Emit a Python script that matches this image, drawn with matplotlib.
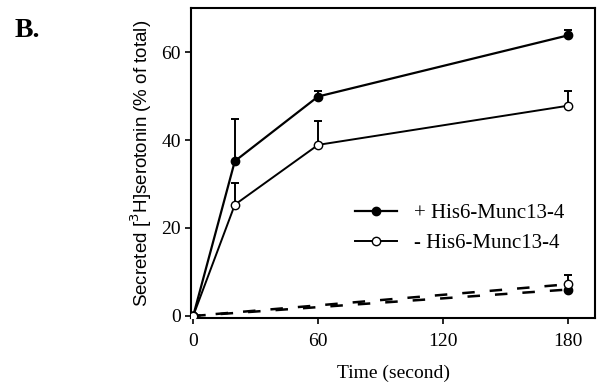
import matplotlib.pyplot as plt
from matplotlib.lines import Line2D
import numpy as np

plt.rcParams['font.family'] = ['Liberation Serif', 'DejaVu Serif']

# data
time = [0, 20, 60, 180]
plus_munc = [0, 35.2, 49.9, 63.8]
plus_err = [0, 9.6, 1.2, 1.3]
minus_munc = [0, 25.3, 38.9, 47.8]
minus_err = [0, 4.9, 5.4, 3.3]

ctrl_time = [0, 180]
ctrl_plus = [0, 6.0]
ctrl_minus = [0, 7.2]
ctrl_minus_err = [0, 2.2]

labels = ["+ His6-Munc13-4", "- His6-Munc13-4"]

fig = plt.figure(figsize=(6.01, 3.87), dpi=100)
ax = fig.add_axes([0.318, 0.178, 0.672, 0.801])

ax.errorbar(time, plus_munc, yerr=[np.zeros(4), plus_err], color="black", lw=1.6,
            marker="o", ms=6, mfc="black", mec="black", capsize=3, elinewidth=1.4,
            capthick=1.4, zorder=3)
ax.errorbar(time, minus_munc, yerr=[np.zeros(4), minus_err], color="black", lw=1.4,
            marker="o", ms=6, mfc="white", mec="black", capsize=3, elinewidth=1.4,
            capthick=1.4, zorder=3)
ax.plot(ctrl_time, ctrl_plus, color="black", lw=1.8, ls=(0, (5, 6)),
        marker="o", ms=6, mfc="black", mec="black", zorder=3)
ax.errorbar(ctrl_time, ctrl_minus, yerr=[np.zeros(2), ctrl_minus_err], color="black",
            lw=1.8, ls=(2, (5, 6)), marker="o", ms=6, mfc="white", mec="black",
            capsize=3, elinewidth=1.4, capthick=1.4, zorder=3)

ax.set_xlim(-1, 193)
ax.set_ylim(-0.5, 70)
ax.set_xticks([0, 60, 120, 180])
ax.set_yticks([0, 20, 40, 60])
ax.tick_params(labelsize=14, width=1.2, length=4)
ax.tick_params(axis="x", pad=7)
for s in ax.spines.values():
    s.set_linewidth(1.5)

ax.set_xlabel("Time (second)", fontsize=14, labelpad=10)
ax.set_ylabel("Secreted [$^3$H]serotonin (% of total)", fontsize=13.5,
              family=["Liberation Sans", "DejaVu Sans"], labelpad=5)

handles = [
    Line2D([], [], color="black", lw=1.6, marker="o", ms=6, mfc="black", mec="black"),
    Line2D([], [], color="black", lw=1.4, marker="o", ms=6, mfc="white", mec="black"),
]
ax.legend(handles, labels, loc="center left", bbox_to_anchor=(0.36, 0.29),
          frameon=False, fontsize=15, handlelength=2.0, handletextpad=0.8,
          labelspacing=0.5)

fig.text(0.025, 0.905, "B.", fontsize=20, fontweight="bold")

fig.savefig("out.png", dpi=100)
